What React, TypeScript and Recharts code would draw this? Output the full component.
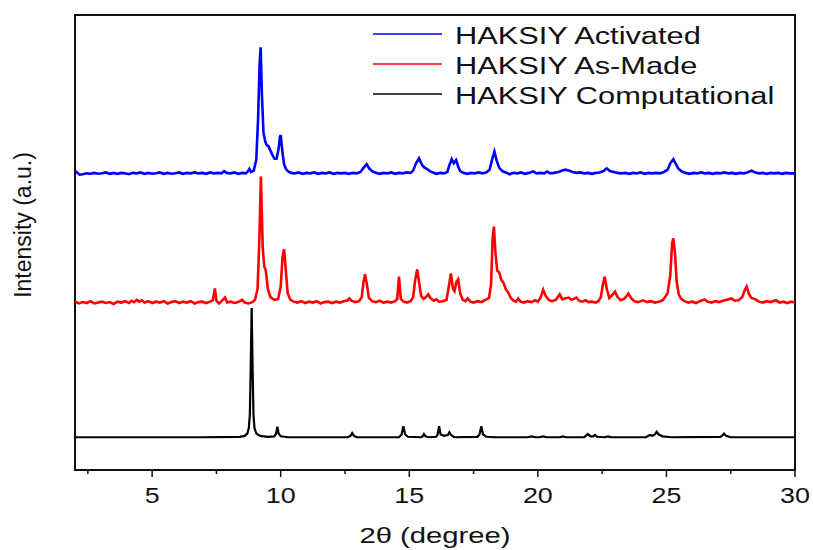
import { Legend, Line, LineChart, ReferenceArea, XAxis, YAxis } from 'recharts';

// [2θ in degrees, counts above the pattern's own baseline]
const activated: [number, number][] = [
  [2.0, 6], [2.08, 2], [2.18, -3], [2.3, -2], [2.45, 0], [2.6, -1], [2.75, 1], [2.9, -1],
  [3.05, 0], [3.2, 2], [3.35, -1], [3.5, 1], [3.65, -1], [3.8, 1], [3.95, 0], [4.1, -2],
  [4.25, 1], [4.4, 0], [4.55, 2], [4.7, -1], [4.85, 1], [5.0, -1], [5.15, 0], [5.3, 2],
  [5.45, -1], [5.6, 1], [5.75, -1], [5.9, 0], [6.05, 2], [6.2, -1], [6.35, 1], [6.5, 0],
  [6.65, 2], [6.8, 0], [6.95, 1], [7.1, -1], [7.25, 2], [7.4, 0], [7.55, 1], [7.7, 0],
  [7.8, 5], [7.9, 1], [8.05, 0], [8.2, 2], [8.35, -1], [8.5, 1], [8.65, 0], [8.72, 4],
  [8.78, 10], [8.85, 3], [8.95, 6], [9.05, 30], [9.12, 120], [9.18, 240], [9.22, 277],
  [9.27, 170], [9.33, 90], [9.39, 72], [9.45, 62], [9.52, 60], [9.6, 50], [9.68, 40],
  [9.76, 32], [9.84, 32], [9.92, 55], [9.97, 80], [10.0, 84], [10.06, 50], [10.13, 20],
  [10.2, 10], [10.29, 4], [10.4, 1], [10.55, 0], [10.7, 2], [10.85, -1], [11.0, 1],
  [11.15, 0], [11.3, 2], [11.45, -1], [11.6, 1], [11.75, 0], [11.9, 2], [12.05, -1],
  [12.2, 1], [12.35, 0], [12.5, 1], [12.65, -1], [12.8, 1], [12.95, 0], [13.1, 3],
  [13.22, 12], [13.34, 20], [13.45, 10], [13.58, 4], [13.7, 1], [13.85, -1], [14.0, 1],
  [14.15, 0], [14.3, 2], [14.45, -1], [14.6, 1], [14.75, 0], [14.9, 2], [15.05, 1],
  [15.15, 6], [15.26, 22], [15.38, 33], [15.48, 20], [15.58, 13], [15.68, 10], [15.8, 5],
  [15.92, 2], [16.05, -1], [16.2, 1], [16.35, 0], [16.48, 3], [16.56, 18], [16.65, 31],
  [16.73, 22], [16.82, 29], [16.9, 15], [16.98, 5], [17.1, 1], [17.25, -1], [17.4, 1],
  [17.55, 0], [17.7, 2], [17.85, 0], [18.0, 2], [18.12, 8], [18.22, 30], [18.31, 48],
  [18.4, 28], [18.5, 12], [18.62, 5], [18.75, 2], [18.9, -2], [19.05, 1], [19.2, 0],
  [19.35, 2], [19.5, -1], [19.65, 1], [19.82, 4], [19.95, 0], [20.1, 1], [20.25, 0],
  [20.36, 4], [20.48, 0], [20.62, 1], [20.8, 3], [20.95, 6], [21.07, 8], [21.2, 6],
  [21.35, 3], [21.5, 1], [21.65, 2], [21.8, 0], [21.95, 1], [22.1, -1], [22.25, 1],
  [22.4, 2], [22.55, 5], [22.68, 11], [22.8, 5], [22.95, 3], [23.1, 1], [23.25, 0],
  [23.4, 1], [23.55, -1], [23.7, 1], [23.85, 0], [24.0, 2], [24.15, -1], [24.3, 1],
  [24.45, 0], [24.6, 1], [24.75, 0], [24.9, 3], [25.05, 8], [25.15, 22], [25.27, 31],
  [25.37, 20], [25.47, 10], [25.6, 4], [25.75, 1], [25.9, -1], [26.05, 1], [26.2, 0],
  [26.35, 2], [26.5, 0], [26.65, 1], [26.8, -1], [26.95, 1], [27.1, 0], [27.25, 2],
  [27.4, 0], [27.55, 1], [27.7, -1], [27.85, 1], [28.0, 0], [28.15, 2], [28.31, 6],
  [28.45, 2], [28.6, 0], [28.75, 1], [28.9, -1], [29.05, 1], [29.2, 0], [29.35, 1],
  [29.5, -1], [29.65, 1], [29.8, 0], [30.0, 0],
];

const asMade: [number, number][] = [
  [2.0, 2], [2.15, -2], [2.3, 1], [2.45, -1], [2.6, 3], [2.75, -2], [2.9, 0], [3.05, 2],
  [3.2, -1], [3.35, 1], [3.5, -3], [3.65, 2], [3.8, 0], [3.95, 3], [4.1, -1], [4.2, 4],
  [4.3, 1], [4.4, 6], [4.5, 2], [4.6, 5], [4.7, 0], [4.85, 3], [5.0, -1], [5.15, 2],
  [5.3, 0], [5.45, 3], [5.6, -2], [5.75, 1], [5.9, 3], [6.05, -1], [6.2, 2], [6.35, 0],
  [6.5, 3], [6.65, -2], [6.8, 1], [6.95, 2], [7.1, -1], [7.25, 2], [7.36, 5], [7.44, 31],
  [7.5, 4], [7.6, -2], [7.7, 3], [7.83, 11], [7.92, 0], [8.05, 2], [8.2, -1], [8.35, 1],
  [8.5, 6], [8.6, 0], [8.75, -2], [8.9, 1], [9.0, 6], [9.1, 30], [9.17, 140], [9.23, 277],
  [9.3, 120], [9.36, 80], [9.42, 70], [9.5, 30], [9.6, 12], [9.75, 6], [9.9, 8],
  [10.0, 35], [10.07, 100], [10.13, 117], [10.2, 70], [10.27, 20], [10.38, 6], [10.5, 2],
  [10.65, 0], [10.8, 3], [10.95, -1], [11.1, 2], [11.25, 0], [11.4, 3], [11.55, -2],
  [11.7, 1], [11.85, 2], [12.0, -1], [12.15, 2], [12.3, 0], [12.45, 3], [12.6, 5],
  [12.67, 9], [12.75, 4], [12.9, 1], [13.05, 3], [13.15, 12], [13.22, 45], [13.28, 62],
  [13.35, 40], [13.43, 10], [13.55, 3], [13.7, 1], [13.85, 4], [14.0, 0], [14.15, 2],
  [14.3, 0], [14.45, 3], [14.53, 8], [14.6, 57], [14.67, 8], [14.78, 2], [14.9, 0],
  [15.05, 3], [15.15, 12], [15.23, 50], [15.31, 73], [15.38, 45], [15.46, 15], [15.55, 8],
  [15.65, 12], [15.74, 18], [15.82, 10], [15.95, 4], [16.06, 7], [16.15, 2], [16.3, 3],
  [16.45, 6], [16.55, 40], [16.62, 64], [16.7, 30], [16.76, 25], [16.83, 45], [16.9, 51],
  [16.98, 20], [17.08, 6], [17.18, 3], [17.27, 9], [17.38, 2], [17.5, 0], [17.65, 3],
  [17.8, 1], [17.9, 4], [18.0, 7], [18.1, 10], [18.18, 40], [18.24, 140], [18.29, 167],
  [18.35, 110], [18.42, 70], [18.5, 66], [18.58, 50], [18.66, 44], [18.75, 30],
  [18.85, 22], [18.95, 10], [19.05, 4], [19.15, 2], [19.24, 9], [19.33, 2], [19.45, 0],
  [19.6, 3], [19.75, 1], [19.89, 5], [20.0, 2], [20.1, 10], [20.21, 28], [20.3, 15],
  [20.42, 6], [20.55, 3], [20.7, 6], [20.85, 18], [20.95, 7], [21.05, 9], [21.2, 11],
  [21.3, 6], [21.4, 8], [21.5, 11], [21.6, 4], [21.72, 2], [21.86, 5], [21.97, 1],
  [22.1, 2], [22.25, 0], [22.35, 3], [22.45, 12], [22.53, 40], [22.6, 57], [22.68, 30],
  [22.78, 10], [22.88, 16], [23.0, 24], [23.1, 12], [23.22, 5], [23.35, 8], [23.45, 14],
  [23.52, 20], [23.62, 10], [23.75, 3], [23.9, 1], [24.09, 5], [24.25, 1], [24.4, 3],
  [24.55, 0], [24.7, 2], [24.85, 5], [24.95, 12], [25.05, 22], [25.15, 60], [25.22, 130],
  [25.27, 141], [25.33, 110], [25.4, 45], [25.48, 18], [25.56, 9], [25.7, 3], [25.85, 0],
  [26.0, 2], [26.15, -1], [26.3, 3], [26.48, 7], [26.6, 2], [26.75, 0], [26.9, 3],
  [27.05, 1], [27.2, 4], [27.35, 6], [27.53, 9], [27.65, 4], [27.8, 5], [27.95, 12],
  [28.05, 28], [28.12, 35], [28.2, 20], [28.3, 10], [28.47, 7], [28.6, 2], [28.75, 0],
  [28.9, 3], [29.05, 1], [29.26, 5], [29.4, 0], [29.55, 2], [29.7, -1], [29.85, 2],
  [30.0, 0],
];

const computational: [number, number][] = [
  [2.0, 0], [7.0, 0], [8.4, 1], [8.6, 3], [8.7, 8], [8.76, 20], [8.8, 50], [8.83, 140],
  [8.87, 284], [8.91, 140], [8.94, 50], [8.98, 20], [9.05, 8], [9.2, 3], [9.5, 1],
  [9.75, 2], [9.82, 8], [9.87, 23], [9.92, 8], [10.0, 2], [10.3, 0], [12.6, 0],
  [12.72, 3], [12.78, 9], [12.85, 3], [12.95, 0], [14.6, 0], [14.7, 6], [14.77, 24],
  [14.84, 6], [14.95, 1], [15.45, 0], [15.52, 2], [15.57, 7], [15.63, 2], [15.75, 0],
  [16.05, 1], [16.1, 6], [16.16, 24], [16.22, 6], [16.35, 3], [16.5, 5], [16.56, 11],
  [16.62, 5], [16.75, 0], [17.65, 1], [17.73, 6], [17.8, 24], [17.87, 6], [18.0, 1],
  [18.3, 0], [19.6, 0], [19.76, 2], [19.9, 0], [20.05, 0], [20.2, 2], [20.35, 0],
  [20.85, 0], [20.98, 2], [21.1, 0], [21.8, 0], [21.94, 7], [22.05, 2], [22.15, 2],
  [22.22, 5], [22.3, 1], [22.6, 0], [22.73, 2], [22.85, 0], [24.2, 0], [24.36, 5],
  [24.45, 3], [24.55, 6], [24.62, 12], [24.7, 6], [24.85, 2], [25.2, 0], [27.1, 1],
  [27.18, 4], [27.24, 8], [27.32, 3], [27.5, 0], [30.0, 0],
];

// vertical stacking of the three patterns
const activatedOffset = 652;
const asMadeOffset = 368;
const computationalOffset = 72;

const xTicks = [2.5, 5, 7.5, 10, 12.5, 15, 17.5, 20, 22.5, 25, 27.5, 30];
const labelledTicks = [5, 10, 15, 20, 25, 30];

const FONT = '"Liberation Sans", Arial, sans-serif';
const INK = '#111';

const stack = (pairs: [number, number][], offset: number) =>
  pairs.map(([x, counts]) => ({ x, y: counts + offset }));

const AxisTick = ({ x, y, payload }: any) => {
  const major = labelledTicks.includes(payload.value);
  return (
    <g>
      <line x1={x} x2={x} y1={y} y2={y + (major ? 7 : 4)} stroke={INK} strokeWidth={1.5} />
      {major && (
        <text
          transform={`translate(${x}, ${y + 33}) scale(1.25, 1)`}
          textAnchor='middle'
          fontFamily={FONT}
          fontSize={21.5}
          fill={INK}
        >
          {payload.value}
        </text>
      )}
    </g>
  );
};

const XTitle = ({ viewBox }: any) =>
  viewBox ? (
    <text
      transform={`translate(${viewBox.x + viewBox.width / 2}, ${viewBox.y + 73}) scale(1.3, 1)`}
      textAnchor='middle'
      fontFamily={FONT}
      fontSize={22.5}
      fill={INK}
    >
      2θ (degree)
    </text>
  ) : null;

const LegendBox = ({ payload }: any) => (
  <svg width={430} height={100} style={{ display: 'block' }}>
    {(payload ?? []).map((item: any, i: number) => (
      <g key={item.value} transform={`translate(0, ${i * 30})`}>
        <line x1={8} x2={77} y1={20} y2={20} stroke={item.color} strokeWidth={1.6} />
        <text
          transform='translate(90, 30) scale(1.31, 1)'
          fontFamily={FONT}
          fontSize={23.5}
          fill={INK}
        >
          {item.value}
        </text>
      </g>
    ))}
  </svg>
);

const App = () => (
  <div style={{ position: 'absolute', left: 0, top: 0, width: 813, height: 550, background: '#fff' }}>
    <LineChart width={813} height={550} margin={{ top: 15, right: 18, bottom: 0, left: 75 }}>
      <XAxis
        type='number'
        dataKey='x'
        domain={[2, 30]}
        ticks={xTicks}
        allowDataOverflow
        height={80}
        axisLine={false}
        tickLine={false}
        tickSize={0}
        tickMargin={0}
        tick={<AxisTick />}
        label={{ content: XTitle }}
      />
      <YAxis type='number' domain={[0, 1000]} allowDataOverflow hide />
      <Legend
        layout='horizontal'
        verticalAlign='middle'
        align='center'
        content={<LegendBox />}
        wrapperStyle={{ left: 365, top: 14, width: 430, height: 100 }}
      />
      <Line
        data={stack(activated, activatedOffset)}
        dataKey='y'
        name='HAKSIY Activated'
        type='linear'
        stroke='#0000ff'
        strokeWidth={2.6}
        dot={false}
        isAnimationActive={false}
      />
      <Line
        data={stack(asMade, asMadeOffset)}
        dataKey='y'
        name='HAKSIY As-Made'
        type='linear'
        stroke='#ff0000'
        strokeWidth={2.6}
        dot={false}
        isAnimationActive={false}
      />
      <Line
        data={stack(computational, computationalOffset)}
        dataKey='y'
        name='HAKSIY Computational'
        type='linear'
        stroke='#000000'
        strokeWidth={2.2}
        dot={false}
        isAnimationActive={false}
      />
      <ReferenceArea
        x1={2}
        x2={30}
        y1={0}
        y2={1000}
        fill='none'
        stroke={INK}
        strokeWidth={2}
        ifOverflow='visible'
      />
    </LineChart>
    {/* rotated y-axis title, centred a little above the plot's middle */}
    <div
      style={{
        position: 'absolute',
        left: 23,
        top: 225,
        transform: 'translate(-50%, -50%) rotate(-90deg)',
        fontFamily: FONT,
        fontSize: 23,
        color: INK,
        whiteSpace: 'nowrap',
        lineHeight: 1,
      }}
    >
      Intensity (a.u.)
    </div>
  </div>
);

export default App;
